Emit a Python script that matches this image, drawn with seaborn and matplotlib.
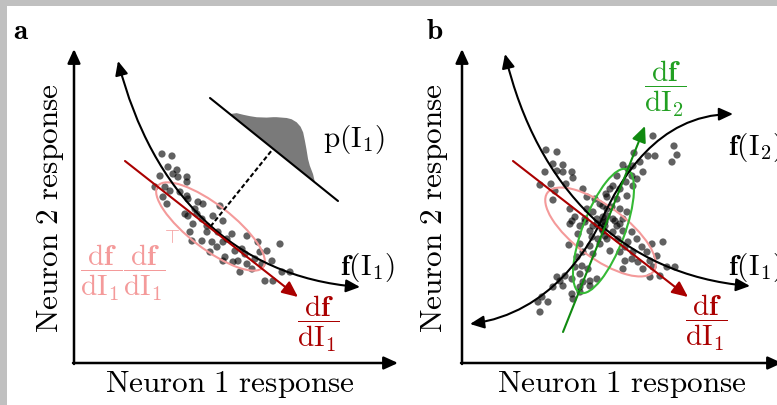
import numpy as np
import matplotlib
matplotlib.use('Agg')
import matplotlib.pyplot as plt
from matplotlib.patches import Ellipse, FancyArrowPatch, Polygon, Rectangle
from matplotlib.path import Path
import seaborn as sns

# ---------------- data (response units, origin at the axes corner) ----------------
# noisy responses to stimulus I1 (panel a)
pts_a = np.array([
    (98, 207), (94, 196), (103, 193), (99, 189), (86, 187), (104, 186), (113, 186), (113, 181),
    (81, 176), (91, 176), (96, 172), (106, 171), (113, 167), (114, 164), (89, 166), (93, 159),
    (124, 161), (129, 159), (121, 154), (146, 157), (111, 149), (114, 147), (123, 149), (128, 144),
    (139, 147), (149, 142), (119, 139), (133, 137), (116, 131), (118, 122), (133, 131), (144, 131),
    (158, 129), (173, 127), (128, 122), (138, 121), (149, 121), (153, 124), (143, 116), (161, 112),
    (168, 114), (171, 109), (184, 121), (186, 111), (193, 112), (206, 119), (136, 111), (151, 106),
    (149, 102), (164, 102), (173, 99), (159, 101), (166, 91), (178, 94), (188, 99), (198, 102),
    (181, 104), (208, 91), (191, 82), (199, 82), (216, 91), (88, 209)])

# noisy responses to stimuli I1 and I2 (panel b)
pts_b = np.array([
    (191, 227), (212, 217), (215, 208), (210, 201), (172, 210), (186, 207), (193, 207), (178, 201),
    (161, 198), (166, 194), (171, 197), (181, 191), (155, 187), (170, 187), (175, 184), (164, 181),
    (151, 177), (148, 174), (171, 177), (158, 174), (145, 166), (155, 164), (165, 167), (141, 157),
    (150, 156), (158, 154), (165, 151), (145, 147), (151, 144), (161, 144), (141, 141), (155, 137),
    (84, 213), (95, 211), (91, 199), (101, 198), (95, 192), (83, 191), (101, 191), (110, 191),
    (111, 185), (78, 178), (89, 179), (104, 179), (93, 172), (121, 174), (125, 166), (91, 163),
    (133, 164), (144, 169), (138, 159), (108, 154), (125, 154), (131, 151), (145, 154), (113, 146),
    (123, 144), (135, 144), (141, 146), (108, 139), (118, 137), (131, 137), (143, 137),
    (110, 142), (123, 141), (135, 139), (140, 134), (128, 132), (116, 129), (130, 126), (136, 124),
    (143, 127), (107, 118), (118, 119), (128, 117), (138, 119), (121, 111), (115, 106), (131, 109),
    (120, 97), (113, 96), (126, 94), (103, 87), (118, 89), (98, 82), (110, 84), (121, 81),
    (128, 82), (135, 84), (91, 76), (101, 77), (118, 76), (128, 77), (110, 69), (118, 71),
    (111, 64), (80, 66), (76, 61), (86, 61), (78, 51), (95, 86),
    (143, 141), (153, 142), (158, 139), (141, 132), (151, 131), (161, 132), (170, 131), (145, 124),
    (156, 124), (166, 121), (175, 124), (163, 116), (180, 116), (190, 119), (201, 121), (148, 112),
    (158, 111), (171, 111), (185, 111), (195, 107), (163, 102), (176, 101), (170, 104), (188, 102),
    (205, 96), (161, 94), (181, 94), (191, 96), (213, 96), (188, 86), (198, 87)])

# response curves f(I) as bezier control points
f1_a_ctrl = [(44, 302), (78, 170), (160, 86), (286, 76)]
f1_b_ctrl = [(43, 309), (75, 175), (160, 88), (288, 77)]
f2_b_ctrl = [(8, 39), (90, 50), (128, 118), (140, 144), (158, 183), (195, 248), (271, 249)]

# derivative directions
df1_a = [(51, 202), (224, 66)]
df1_b = [(51, 202), (226, 66)]
df2_b = [(101, 31), (183, 237)]

# noise covariance ellipses: centre, major, minor, angle
ell_a = dict(xy=(136.5, 136.5), width=133, height=44, angle=-37.6)
ell_b1 = dict(xy=(138.5, 131.0), width=132, height=52, angle=-36.5)
ell_b2 = dict(xy=(141.5, 132.0), width=132, height=42, angle=69.3)

# projected distribution p(I1): axis line, positions along it and heights
dist_line = np.array([(136, 265), (264, 162)])
dist_s = [0.156, 0.184, 0.222, 0.259, 0.295, 0.343, 0.373, 0.389, 0.44, 0.468,
          0.504, 0.539, 0.573, 0.613, 0.652, 0.698, 0.732, 0.779, 0.82]
dist_h = [0, 4.9, 7.8, 10.9, 14.3, 20.2, 24.7, 26.8, 32.5, 34.6,
          35.4, 34.4, 31.6, 26.2, 20.7, 13.9, 9.8, 5.3, 0]

RED = '#aa0000'
PINK = '#f49a9a'
GREEN = '#108a10'
GREEN_L = '#35b935'
GREEN_T = '#22a022'

sns.set_theme(style='white')
plt.rcParams['mathtext.fontset'] = 'cm'
plt.rcParams['font.family'] = ['DejaVu Serif']
plt.rcParams['text.color'] = 'black'

fig = plt.figure(figsize=(7.77, 4.06), dpi=100)
fig.patch.set_facecolor('#c0c0c0')
fig.add_artist(Rectangle((7 / 777, 0), 1, 399 / 406, transform=fig.transFigure,
                         facecolor='white', edgecolor='none', zorder=0))

ax_a = fig.add_axes([74 / 777, 42 / 406, 326 / 777, 330 / 406])
ax_a.set_xlim(0, 326)
ax_a.set_ylim(0, 330)
ax_b = fig.add_axes([462 / 777, 42 / 406, 315 / 777, 330 / 406])
ax_b.set_xlim(0, 315)
ax_b.set_ylim(0, 330)

AX_STYLE = '-|>,head_length=0.7,head_width=0.32'
ARR_STYLE = '-|>,head_length=0.8,head_width=0.36'
CURVE_STYLE = '<|-|>,head_length=0.7,head_width=0.32'
TXT = dict(fontsize=21, ha='center', va='center', color='black', clip_on=False)
LBL = {**TXT, 'fontsize': 22.5}


def arrow(ax, a, b, color, lw, style=ARR_STYLE):
    p = FancyArrowPatch(a, b, arrowstyle=style, color=color, lw=lw, mutation_scale=12,
                        shrinkA=0, shrinkB=0, clip_on=False, zorder=4)
    ax.add_patch(p)


def curve(ax, ctrl, color='black', lw=1.5):
    codes = [Path.MOVETO] + [Path.CURVE4] * (len(ctrl) - 1)
    p = FancyArrowPatch(path=Path(ctrl, codes), arrowstyle=CURVE_STYLE, color=color, lw=lw,
                        mutation_scale=12, transform=ax.transData, clip_on=False, zorder=4)
    ax.add_patch(p)


for ax, xend, lab, xl in [(ax_a, 324, 'a', -53), (ax_b, 320, 'b', -27)]:
    ax.set_axis_off()
    arrow(ax, (0, -1), (0, 314), 'black', 1.8, AX_STYLE)
    arrow(ax, (-1, 0), (xend, 0), 'black', 1.8, AX_STYLE)
    ax.text(xl, 333, r'$\mathbf{%s}$' % lab, **TXT)

ax_a.text(156, -21, r'$\mathrm{Neuron\ 1\ response}$', **LBL)
ax_a.text(-24, 156, r'$\mathrm{Neuron\ 2\ response}$', rotation=90, **LBL)
ax_b.text(160, -21, r'$\mathrm{Neuron\ 1\ response}$', **LBL)
ax_b.text(-27, 156, r'$\mathrm{Neuron\ 2\ response}$', rotation=90, **LBL)

# ---------------- panel a ----------------
sns.scatterplot(x=pts_a[:, 0], y=pts_a[:, 1], ax=ax_a, color='black', alpha=0.62, s=27,
                edgecolor='none', linewidth=0, zorder=2, legend=False)
ax_a.add_patch(Ellipse(**ell_a, fill=False, edgecolor=PINK, lw=1.5, zorder=3))
curve(ax_a, f1_a_ctrl)
arrow(ax_a, df1_a[0], df1_a[1], RED, 1.5)

p0, p1 = dist_line
d = p1 - p0
u = d / np.linalg.norm(d)
n = np.array([-u[1], u[0]])
s = np.array(dist_s)[:, None]
h = np.array(dist_h)[:, None]
top = p0 + s * d + h * n
ax_a.add_patch(Polygon(top, closed=True, facecolor='#7a7a7a', edgecolor='none', zorder=3))
ax_a.plot(dist_line[:, 0], dist_line[:, 1], color='black', lw=1.5, zorder=4)
c = np.array(ell_a['xy'])
proj = p0 + np.dot(c - p0, u) * u
ax_a.plot([c[0], proj[0]], [c[1], proj[1]], color='black', lw=1.5, ls=(0, (2.2, 1.2)), zorder=4)

ax_a.text(280, 224, r'$\mathrm{p}(\mathrm{I}_1)$', **TXT)
ax_a.text(266, 96, r'$\mathbf{f}(\mathrm{I}_1)$', **{**TXT, 'ha': 'left'})
ax_a.text(244, 40, r'$\dfrac{\mathrm{d}\mathbf{f}}{\mathrm{dI}_1}$', **{**TXT, 'color': RED})
ax_a.text(49, 91, r'$\dfrac{\mathrm{d}\mathbf{f}}{\mathrm{dI}_1}\dfrac{\mathrm{d}\mathbf{f}}{\mathrm{dI}_1}$',
          **{**TXT, 'color': PINK})
ax_a.text(97, 126, r'$\top$', **{**TXT, 'fontsize': 14, 'color': PINK})

# ---------------- panel b ----------------
sns.scatterplot(x=pts_b[:, 0], y=pts_b[:, 1], ax=ax_b, color='black', alpha=0.62, s=27,
                edgecolor='none', linewidth=0, zorder=2, legend=False)
ax_b.add_patch(Ellipse(**ell_b1, fill=False, edgecolor=PINK, lw=1.5, zorder=3))
ax_b.add_patch(Ellipse(**ell_b2, fill=False, edgecolor=GREEN_L, lw=1.5, zorder=3))
curve(ax_b, f1_b_ctrl)
curve(ax_b, f2_b_ctrl)
arrow(ax_b, df1_b[0], df1_b[1], RED, 1.5)
arrow(ax_b, df2_b[0], df2_b[1], GREEN, 1.5)

ax_b.text(266, 217, r'$\mathbf{f}(\mathrm{I}_2)$', **{**TXT, 'ha': 'left'})
ax_b.text(266, 97, r'$\mathbf{f}(\mathrm{I}_1)$', **{**TXT, 'ha': 'left'})
ax_b.text(203, 275, r'$\dfrac{\mathrm{d}\mathbf{f}}{\mathrm{dI}_2}$', **{**TXT, 'color': GREEN_T})
ax_b.text(244, 41, r'$\dfrac{\mathrm{d}\mathbf{f}}{\mathrm{dI}_1}$', **{**TXT, 'color': RED})

fig.savefig('out.png', dpi=100, facecolor=fig.get_facecolor())
